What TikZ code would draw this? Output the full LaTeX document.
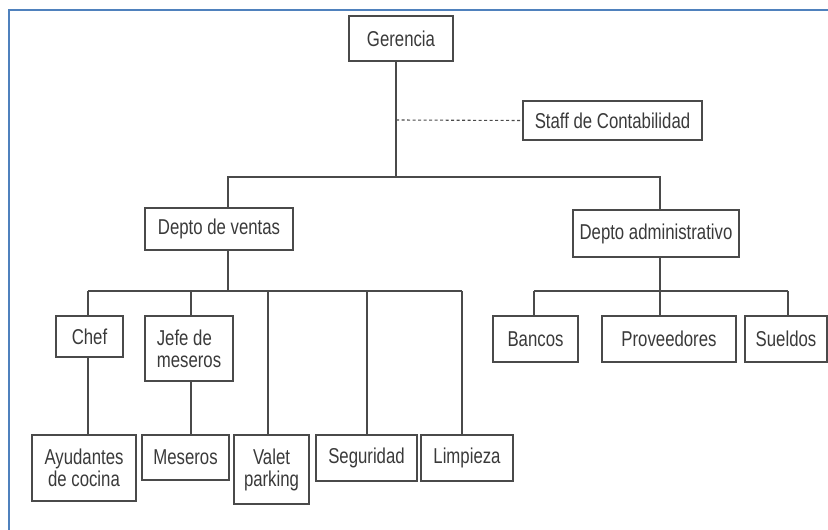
\documentclass[tikz,border=0pt]{standalone}
\usepackage{fontspec}
\setmainfont[FakeStretch=0.78]{Liberation Sans}
\definecolor{linegray}{HTML}{4A4A4A}
\definecolor{txtgray}{HTML}{3A3A3A}
\definecolor{frameblue}{HTML}{4F81BD}
\begin{document}
\begin{tikzpicture}[x=1pt,y=-1pt,
  box/.style={draw=linegray, line width=1.3pt, fill=white, text=txtgray,
    inner sep=2pt, font=\fontsize{21.5}{22}\selectfont, align=center},
  link/.style={draw=linegray, line width=1.3pt},
  staffline/.style={draw=linegray, line width=1.1pt, dash pattern=on 3pt off 2.5pt}]
\useasboundingbox (0,0) rectangle (828,530);
% page frame
\draw[frameblue, line width=2pt] (9,530) -- (9,10) -- (828,10);

% junction points of the connectors
\coordinate (trunk)  at (396,177);
\coordinate (staffj) at (396,120);
\coordinate (vdrop)  at (228,177);
\coordinate (adrop)  at (660,177);
\coordinate (vbar)   at (228,291);
\coordinate (abar)   at (660,291);
\coordinate (vl)     at (88,291);
\coordinate (vj)     at (191,291);
\coordinate (vv)     at (268,291);
\coordinate (vs)     at (367,291);
\coordinate (vlim)   at (462,291);
\coordinate (ab)     at (534,291);
\coordinate (as)     at (788,291);

% boxes
\node[box, minimum width=104pt, minimum height=45pt] (ger)   at (401,38.5)  {Gerencia};
\node[box, minimum width=179pt, minimum height=39pt] (staff) at (612.5,120.5) {Staff de Contabilidad};
\node[box, minimum width=148pt, minimum height=42pt] (vent)  at (219,229)   {Depto de ventas};
\node[box, minimum width=166pt, minimum height=47pt] (adm)   at (656,233.5) {Depto administrativo};
\node[box, minimum width=67pt,  minimum height=41pt] (chef)  at (89.5,336.5) {Chef};
\node[box, minimum width=88pt,  minimum height=65pt, align=left] (jefe) at (189,348.5) {Jefe de\\meseros};
\node[box, minimum width=104pt, minimum height=66pt] (ayud)  at (84,468)    {Ayudantes\\de cocina};
\node[box, minimum width=87pt,  minimum height=45pt] (mes)   at (185.5,457.5) {Meseros};
\node[box, minimum width=75pt,  minimum height=69pt] (valet) at (271.5,469.5) {Valet\\parking};
\node[box, minimum width=101pt, minimum height=46pt] (seg)   at (366.5,458) {Seguridad};
\node[box, minimum width=92pt,  minimum height=46pt] (lim)   at (467,458)   {Limpieza};
\node[box, minimum width=85pt,  minimum height=46pt] (ban)   at (535.5,339) {Bancos};
\node[box, minimum width=134pt, minimum height=46pt] (prov)  at (669,339)   {Proveedores};
\node[box, minimum width=82pt,  minimum height=46pt] (sue)   at (786,339)   {Sueldos};

% top level
\draw[link] (ger.south -| trunk) -- (trunk);
\draw[staffline] (staffj) -- (staff.west);
\draw[link] (vent.north -| vdrop) -- (vdrop) -- (adrop) -- (adm.north -| adrop);

% sales department
\draw[link] (vent.south -| vbar) -- (vbar);
\draw[link] (vl) -- (vlim);
\draw[link] (vl) -- (chef.north -| vl);
\draw[link] (vj) -- (jefe.north -| vj);
\draw[link] (vv) -- (valet.north -| vv);
\draw[link] (vs) -- (seg.north -| vs);
\draw[link] (vlim) -- (lim.north -| vlim);
\draw[link] (chef.south -| vl) -- (ayud.north -| vl);
\draw[link] (jefe.south -| vj) -- (mes.north -| vj);

% administrative department
\draw[link] (adm.south -| abar) -- (abar);
\draw[link] (ab) -- (as);
\draw[link] (ab) -- (ban.north -| ab);
\draw[link] (abar) -- (prov.north -| abar);
\draw[link] (as) -- (sue.north -| as);
\end{tikzpicture}
\end{document}
